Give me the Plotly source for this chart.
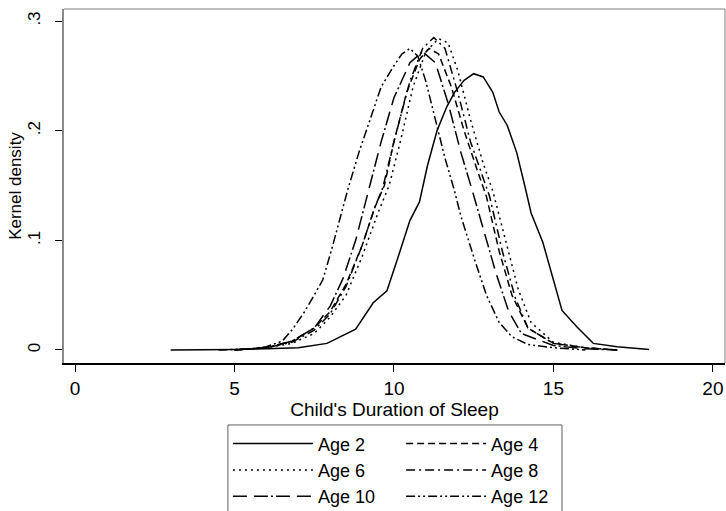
import plotly.graph_objects as go

# ---- data ----
age2_x = [3.0, 4.0, 5.0, 6.0, 7.0, 7.9, 8.8, 9.35, 9.78, 10.1, 10.5, 10.8, 11.05, 11.35, 11.66, 11.9, 12.2, 12.5, 12.8, 13.1, 13.3, 13.55, 13.85, 14.1, 14.3, 14.67, 15.0, 15.27, 15.74, 16.25, 17.0, 18.0]
age2_y = [0.0, 0.0, 0.0005, 0.001, 0.002, 0.006, 0.019, 0.043, 0.054, 0.082, 0.118, 0.135, 0.168, 0.200, 0.222, 0.235, 0.246, 0.252, 0.249, 0.235, 0.217, 0.205, 0.180, 0.150, 0.125, 0.098, 0.065, 0.036, 0.021, 0.006, 0.003, 0.0005]

age4_x = [5.0, 6.0, 6.8, 7.5, 8.0, 8.5, 9.0, 9.4, 9.7, 10.0, 10.4, 10.8, 11.1, 11.4, 11.8, 12.2, 12.6, 12.9, 13.3, 13.7, 14.2, 15.0, 16.0, 17.0]
age4_y = [0.0, 0.002, 0.008, 0.02, 0.035, 0.06, 0.095, 0.13, 0.15, 0.19, 0.235, 0.265, 0.275, 0.27, 0.24, 0.2, 0.165, 0.14, 0.09, 0.05, 0.02, 0.006, 0.002, 0.0]

age6_x = [5.0, 6.0, 6.8, 7.5, 8.0, 8.5, 9.0, 9.5, 9.85, 10.2, 10.6, 11.0, 11.4, 11.7, 12.0, 12.4, 12.8, 13.1, 13.5, 13.9, 14.3, 15.0, 16.0, 17.0]
age6_y = [0.0, 0.002, 0.006, 0.015, 0.03, 0.05, 0.085, 0.125, 0.15, 0.19, 0.24, 0.272, 0.284, 0.28, 0.255, 0.21, 0.17, 0.145, 0.1, 0.055, 0.025, 0.007, 0.002, 0.0]

age8_x = [5.0, 6.0, 6.8, 7.5, 8.0, 8.5, 9.0, 9.4, 9.65, 10.0, 10.5, 10.9, 11.25, 11.6, 12.0, 12.4, 12.7, 13.0, 13.4, 13.8, 14.2, 15.0, 16.0, 17.0]
age8_y = [0.0, 0.002, 0.007, 0.018, 0.033, 0.058, 0.095, 0.13, 0.148, 0.19, 0.245, 0.275, 0.285, 0.275, 0.235, 0.19, 0.165, 0.14, 0.09, 0.048, 0.02, 0.006, 0.002, 0.0]

age10_x = [5.0, 6.0, 6.8, 7.5, 8.0, 8.4, 8.8, 9.2, 9.6, 10.0, 10.5, 10.9, 11.3, 11.7, 12.1, 12.45, 12.8, 13.2, 13.6, 14.0, 15.0, 16.0, 17.0]
age10_y = [0.0, 0.002, 0.008, 0.02, 0.04, 0.065, 0.1, 0.146, 0.19, 0.23, 0.262, 0.272, 0.262, 0.225, 0.18, 0.146, 0.11, 0.07, 0.035, 0.015, 0.004, 0.001, 0.0]

age12_x = [4.5, 5.5, 6.0, 6.5, 6.85, 7.2, 7.46, 7.77, 8.05, 8.3, 8.55, 8.9, 9.3, 9.6, 9.95, 10.25, 10.5, 10.75, 11.0, 11.3, 11.6, 11.9, 12.1, 12.5, 12.9, 13.3, 13.7, 14.2, 15.0, 16.0]
age12_y = [0.0, 0.001, 0.003, 0.008, 0.02, 0.035, 0.048, 0.064, 0.092, 0.12, 0.146, 0.18, 0.215, 0.24, 0.257, 0.27, 0.275, 0.268, 0.245, 0.21, 0.175, 0.145, 0.122, 0.085, 0.05, 0.025, 0.012, 0.005, 0.002, 0.0]

series = [
    ("Age 2", age2_x, age2_y, "solid", "legend"),
    ("Age 4", age4_x, age4_y, "7px,4px", "legend2"),
    ("Age 6", age6_x, age6_y, "2px,4px", "legend"),
    ("Age 8", age8_x, age8_y, "9px,4px,2px,4px", "legend2"),
    ("Age 10", age10_x, age10_y, "14px,7px,14px,3px,2px,3px", "legend"),
    ("Age 12", age12_x, age12_y, "9px,3px,2px,3px,2px,3px", "legend2"),
]

x_ticks = [0, 5, 10, 15, 20]
y_ticks = [0, 0.1, 0.2, 0.3]
y_tick_labels = ["0", ".1", ".2", ".3"]

FONT = "Liberation Sans, Arial, sans-serif"

fig = go.Figure()
for name, xs, ys, dash, lg in series:
    fig.add_trace(go.Scatter(
        x=xs, y=ys, mode="lines", name=name,
        line=dict(color="black", width=1.5, dash=dash),
        legend=lg, legendgroup=name,
    ))

leg_common = dict(
    orientation="v", yanchor="top", xanchor="left",
    font=dict(family=FONT, size=18, color="black"),
    bgcolor="rgba(0,0,0,0)", itemwidth=80, tracegroupgap=0,
    traceorder="grouped",
)

fig.update_layout(
    width=726, height=511,
    margin=dict(l=64, r=1, t=9, b=148, autoexpand=False),
    paper_bgcolor="white", plot_bgcolor="white",
    font=dict(family=FONT, size=17, color="black"),
    showlegend=True,
    legend=dict(x=0.248, y=-0.176, **leg_common),
    legend2=dict(x=0.51, y=-0.176, **leg_common),
    xaxis=dict(
        range=[-0.345, 20.38], tickvals=x_ticks, ticks="outside", ticklen=7,
        tickcolor="black", showgrid=False, zeroline=False, automargin=False,
        showline=True, linecolor="black", linewidth=2,
        tickfont=dict(family=FONT, size=19),
        title=dict(text="Child's Duration of Sleep", font=dict(family=FONT, size=19), standoff=2),
    ),
    yaxis=dict(
        range=[-0.0119, 0.311], tickvals=y_ticks, ticktext=y_tick_labels,
        ticks="outside", ticklen=7, tickcolor="black", tickangle=-90,
        showgrid=False, zeroline=False, automargin=False,
        showline=True, linecolor="#8a8a8a", linewidth=1.5,
        tickfont=dict(family=FONT, size=17), ticklabelstandoff=8,
        title=dict(text="Kernel density", font=dict(family=FONT, size=17), standoff=0),
    ),
    shapes=[
        dict(type="line", xref="paper", yref="paper", x0=0, x1=1, y0=1, y1=1,
             line=dict(color="#a8a8a8", width=1.5)),
        dict(type="line", xref="paper", yref="paper", x0=1, x1=1, y0=0, y1=1,
             line=dict(color="#a8a8a8", width=1.5)),
        dict(type="rect", xref="paper", yref="paper", x0=0.248, x1=0.7534,
             y0=-0.43, y1=-0.175, line=dict(color="#606060", width=1)),
    ],
)

fig.write_html(
    "out.html",
    config={"displayModeBar": False},
    post_script="document.body.style.margin='0';document.body.style.overflow='hidden';",
)
